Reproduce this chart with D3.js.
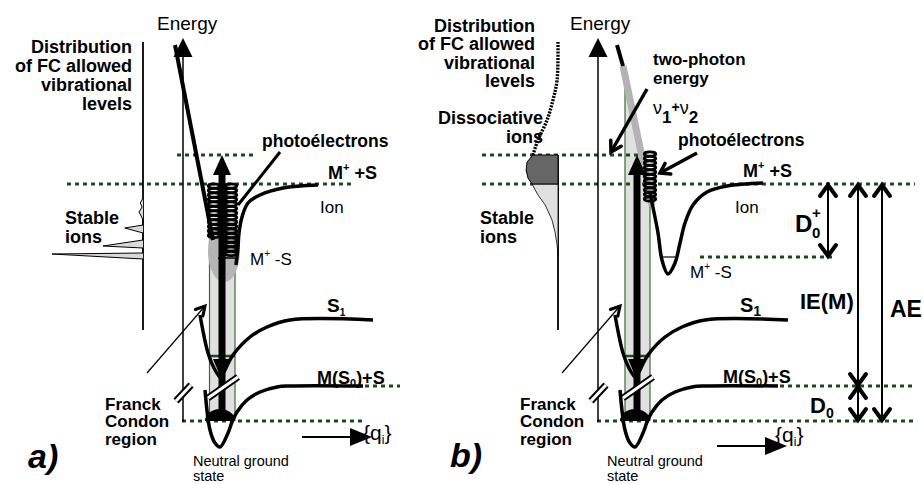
<!DOCTYPE html>
<html>
<head>
<meta charset="utf-8">
<script src="https://cdn.jsdelivr.net/npm/d3@7"></script>
<style>
  body { margin: 0; background: #fff; }
  svg { display: block; font-family: "Liberation Sans", Arial, Helvetica, sans-serif; }
</style>
</head>
<body>
<svg width="923" height="484"></svg>
<script>
// energies in arbitrary units (neutral ground state = 0), q = nuclear coordinate
const levelNames = ["ground", "M(S0)+S", "S1 window", "M+-S", "M+ +S", "v1+v2"];
const levelE = [0, 3.5, 6.5, 16.4, 23.7, 26.6];

// potential curves [q, E]
const groundCurve = [[20.5,3.1],[21.0,-0.9],[21.5,-2.2],[22.0,-2.6],[22.8,-1.2],[23.2,-0.1],[23.7,0.9],[24.7,2.1],[26.0,2.9],[27.7,3.4],[29.0,3.5],[36.3,3.5]];
const s1Curve = [[20.0,10.6],[20.8,6.8],[21.4,5.3],[22.1,4.3],[22.4,4.9],[23.3,6.6],[25.0,8.4],[26.7,9.4],[29.0,10.1],[37.3,10.1]];
const ionCurveA = [[23.6,15.6],[23.8,17.4],[23.9,18.8],[24.2,20.4],[24.8,21.8],[26.0,22.6],[28.3,23.3],[31.8,23.6]];
const ionWallA = [[17.5,37.6],[21.3,18.1]];
const ionCurveB = [[23.5,22.8],[24.3,18.8],[24.7,16.1],[25.3,14.7],[26.0,15.8],[26.5,17.8],[27.0,19.8],[27.8,21.6],[29.2,22.9],[31.2,23.5],[34.8,23.8]];
const ionWallB = [[20.2,37.6],[20.8,35.5],[23.7,21.6]];

// Franck-Condon region outlines
const fcA = [[20.95,18.8],[23.5,18.8],[23.5,0],[20.95,0]];
const fcB = [[21.0,33.6],[21.2,33.6],[23.5,22.6],[23.5,0],[21.0,0]];

// distribution of FC allowed levels [intensity, E]
const stableA = [[0,22.3],[0.03,21.8],[0.01,21.4],[0.045,20.9],[0.02,20.5],[0,20.1],[0,19.6],[0.2,19.3],[0,18.8],[0,18.1],[0.44,17.5],[0,17.3],[0,16.8],[1.0,16.7],[0,16.2]];
const profileB = [[0,37.9],[0.01,34.1],[0.055,32.1],[0.12,30.1],[0.22,28.1],[0.275,26.6],[0.34,25.9],[0.35,25.1],[0.33,24.3],[0.285,23.7],[0.22,22.6],[0.14,21.6],[0.066,20.1],[0.033,18.9],[0.01,17.6],[0,16.6]];

// photoelectron vibrational ladders (E)
const coilA1 = [23.5,23.05,22.6,22.15,21.7,21.25,20.8,20.35,19.9,19.45,19.0,18.55];
const coilA2 = [23.5,23.05,22.6,22.15,21.7,21.25,20.8,20.35,19.9,19.45,19.0,18.55,18.1,17.65,17.2,16.75];
const coilB = [26.7,26.25,25.8,25.35,24.9,24.45,24.0,23.55,23.1,22.65,22.2];

// energy gaps of panel b
const gapNames = ["D0+", "IE(M)", "AE", "D0"];
const gapLow = [16.4, 3.5, 0, 0];
const gapHigh = [23.7, 23.7, 23.7, 3.5];

const svg = d3.select("svg");
const x = d3.scaleLinear().domain([0, 50]).range([0, 500]);
const y = d3.scaleLinear().domain([0, 38.3]).range([421, 38]);
const dist = d3.scaleLinear().domain([0, 1]).range([0, 91]);
const distAxisQ = 14.3, energyAxisQ = 18.3;

const curve = d3.line().x(d => x(d[0])).y(d => y(d[1])).curve(d3.curveCatmullRom.alpha(0.5));
const straight = d3.line().x(d => x(d[0])).y(d => y(d[1]));
const distLine = d3.line().x(d => x(distAxisQ) - dist(d[0])).y(d => y(d[1]));
const distCurve = d3.line().x(d => x(distAxisQ) - dist(d[0])).y(d => y(d[1])).curve(d3.curveCatmullRom);

const green = "#1c4a1c";

const gA = svg.append("g");
const gB = svg.append("g").attr("transform", "translate(415,0)");

function head(g, x1, y1, x2, y2, len, half, open, sw) {
  const L = Math.hypot(x2 - x1, y2 - y1), ux = (x2 - x1) / L, uy = (y2 - y1) / L;
  const pts = [[x2 - ux * len - uy * half, y2 - uy * len + ux * half], [x2, y2],
               [x2 - ux * len + uy * half, y2 - uy * len - ux * half]];
  if (open) {
    g.append("path").attr("d", d3.line()(pts)).attr("fill", "none").attr("stroke", "#000")
      .attr("stroke-width", sw || 3.5).attr("stroke-linejoin", "miter").attr("stroke-linecap", "round");
  } else {
    g.append("path").attr("d", d3.line()(pts) + "Z").attr("fill", "#000");
  }
}

function seg(g, a, b, sw, color) {
  return g.append("line").attr("x1", x(a[0])).attr("y1", y(a[1])).attr("x2", x(b[0])).attr("y2", y(b[1]))
    .attr("stroke", color || "#000").attr("stroke-width", sw);
}

function label(g, px, py, parts, size, weight, anchor, italic) {
  const t = g.append("text").attr("x", px).attr("y", py)
    .attr("font-size", size).attr("font-weight", weight || "bold")
    .attr("text-anchor", anchor || "start").style("white-space", "pre");
  if (italic) t.attr("font-style", "italic");
  let cur = 0;
  parts.forEach(([s, off = 0, sz]) => {
    t.append("tspan").attr("dy", off - cur).attr("font-size", sz || size).text(s);
    cur = off;
  });
  return t;
}

// multi-line block as one text element
function lines(g, px, b0, step, texts, size, weight, anchor) {
  const t = g.append("text").attr("x", px).attr("y", b0)
    .attr("font-size", size).attr("font-weight", weight || "bold")
    .attr("text-anchor", anchor || "start");
  texts.forEach((s, i) => t.append("tspan").attr("x", px).attr("dy", i ? step : 0).text(s));
}

function dotted(g, spans) {
  spans.forEach(([li, q0, q1]) => {
    g.append("line").attr("x1", x(q0)).attr("x2", x(q1)).attr("y1", y(levelE[li])).attr("y2", y(levelE[li]))
      .attr("stroke", green).attr("stroke-width", 3).attr("stroke-dasharray", "4,4");
  });
}

function coil(g, q, levels) {
  g.selectAll(null).data(levels).enter().append("ellipse")
    .attr("cx", x(q)).attr("cy", d => y(d)).attr("rx", 5.8).attr("ry", 2.1)
    .attr("fill", "none").attr("stroke", "#000").attr("stroke-width", 2.7);
}

function fcRegion(g, poly) {
  g.append("path").attr("d", straight(poly) + "Z").attr("fill", "#e0e0e0");
  const left = poly[0][0], right = poly[poly.length - 2][0];
  const topR = poly[poly.length - 3][1];
  seg(g, [left, poly[0][1]], [left, 0], 1.2, "#3c6b36");
  seg(g, [right, topR], [right, 0], 1.2, "#3c6b36");
}

function common(g, dots, fc, axisTop) {
  fcRegion(g, fc);
  dotted(g, dots);
  // S1 window inside FC region
  seg(g, [fc[0][0], levelE[2]], [23.5, levelE[2]], 2.5, green);

  // axes
  seg(g, [distAxisQ, 9.1], [distAxisQ, axisTop], 1.8);
  seg(g, [energyAxisQ, -0.1], [energyAxisQ, 37.4], 1.5);
  head(g, x(energyAxisQ), y(30), x(energyAxisQ), y(38.3), 19, 9.5, false);

  // potentials
  g.append("path").attr("d", curve(groundCurve)).attr("fill", "none").attr("stroke", "#000").attr("stroke-width", 3.5);
  g.append("path").attr("d", curve(s1Curve)).attr("fill", "none").attr("stroke", "#000").attr("stroke-width", 3.5);
}

function overlay(g) {
  // vertical excitation arrow
  seg(g, [22.2, 0.3], [22.2, levelE[5] - 1.8], 7);
  head(g, x(22.2), y(10), x(22.2), y(levelE[5]), 20, 9, false);
  head(g, x(22.1), y(10), x(22.1), y(4.3), 19, 8, false);
  // ground vibrational wavefunction
  g.append("path")
    .attr("d", d3.arc()({ innerRadius: 0, outerRadius: 15, startAngle: -Math.PI / 2, endAngle: Math.PI / 2 }))
    .attr("transform", `translate(${x(22.0)},${y(0)}) scale(1,0.8)`).attr("fill", "#000");
  // breaks
  [[[20.8, 2.3], [23.8, 4.4]], [[17.6, 2.0], [19.1, 3.6]]].forEach(([a, b]) => {
    seg(g, a, b, 7).attr("stroke-linecap", "butt");
    seg(g, a, b, 3, "#fff").attr("stroke-linecap", "butt");
  });
  // Franck-Condon pointer
  seg(g, [14.7, 4.8], [20.5, 11.5], 1.2);
  head(g, x(14.7), y(4.8), x(20.5), y(11.5), 9, 5, true, 3);
}

// ---------- panel a ----------
common(gA, [[5, 17.7, 25.7], [4, 6.7, 35.5], [0, 18.2, 36.5], [1, 36.5, 40.0]], fcA, 37.9);
gA.append("path").attr("d", distLine(stableA)).attr("fill", "#d9d9d9").attr("stroke", "#000").attr("stroke-width", 1);
gA.append("ellipse").attr("cx", x(22.4)).attr("cy", y(17.0)).attr("rx", 16).attr("ry", 31).attr("fill", "#b5b5b5");
gA.append("path").attr("d", curve(ionCurveA)).attr("fill", "none").attr("stroke", "#000").attr("stroke-width", 3.5);
gA.append("path").attr("d", straight(ionWallA)).attr("fill", "none").attr("stroke", "#000").attr("stroke-width", 4);
seg(gA, [21.8, 16.3], [23.5, 16.3], 1.5);
coil(gA, 21.4, coilA1);
coil(gA, 23.1, coilA2);
seg(gA, [28.0, 26.9], [23.8, 21.6], 3);
overlay(gA);

// ---------- panel b ----------
common(gB, [[5, 6.7, 22.5], [4, 6.7, 50], [3, 28.5, 41.8], [1, 36.5, 50], [0, 18.2, 50]], fcB, levelE[5]);
const darkPart = [[0, 26.6]].concat(profileB.filter(d => d[1] <= 26.6 && d[1] >= 23.7), [[0, 23.7]]);
const lightPart = [[0, 23.7]].concat(profileB.filter(d => d[1] <= 23.7));
gB.append("path").attr("d", distLine(lightPart) + "Z").attr("fill", "#e0e0e0").attr("stroke", "#000").attr("stroke-width", 0.8);
gB.append("path").attr("d", distLine(darkPart) + "Z").attr("fill", "#666").attr("stroke", "#000").attr("stroke-width", 1);
gB.append("path").attr("d", distCurve(profileB.filter(d => d[1] >= 26.6)))
  .attr("fill", "none").attr("stroke", "#000").attr("stroke-width", 3.4).attr("stroke-dasharray", "2,1.2");
gB.append("path").attr("d", straight(ionWallB.slice(1))).attr("stroke", "#b3b3b3").attr("stroke-width", 7).attr("fill", "none");
gB.append("path").attr("d", straight(ionWallB.slice(0, 2))).attr("stroke", "#000").attr("stroke-width", 4).attr("fill", "none");
gB.append("path").attr("d", curve(ionCurveB)).attr("fill", "none").attr("stroke", "#000").attr("stroke-width", 3.5);
seg(gB, [24.8, 16.4], [26.0, 16.4], 1.2);
coil(gB, 23.5, coilB);
seg(gB, [28.2, 26.8], [24.5, 24.8], 3.5);
head(gB, x(28.2), y(26.8), x(24.5), y(24.8), 9, 6, true);
seg(gB, [23.2, 33.2], [19.6, 26.9], 3.5);
head(gB, x(23.2), y(33.2), x(19.6), y(26.9), 10, 6, true);
overlay(gB);

// energy gaps
const gapQ = [41.3, 44.3, 46.7, 44.3];
gapNames.forEach((n, i) => {
  const gx = x(gapQ[i]), y0 = y(gapLow[i]) - 1, y1 = y(gapHigh[i]) + 1;
  gB.append("line").attr("x1", gx).attr("x2", gx).attr("y1", y0).attr("y2", y1).attr("stroke", "#000").attr("stroke-width", 2);
  head(gB, gx, y0, gx, y1, 11, 8, true, 4);
  head(gB, gx, y1, gx, y0, 11, 8, true, 4);
});

// q arrows
[[gA, -1.6], [gB, -2.5]].forEach(([g, e]) => {
  seg(g, [30.2, e], [35.6, e], 2);
  head(g, x(30.2), y(e), x(37.2), y(e), 22, 9, false);
});

// ---------- texts ----------
lines(gA, 132, 53, 19, ["Distribution", "of FC allowed", "vibrational", "levels"], 18, "bold", "end");
lines(gB, 120, 32, 18.3, ["Distribution", "of FC allowed", "vibrational", "levels"], 18, "bold", "end");
[gA, gB].forEach((g, i) => {
  label(g, i ? 155 : 157, 30, [["Energy"]], 19, "normal");
  lines(g, 65, 224, 19, ["Stable", "ions"], 18, "bold");
  lines(g, 105, 409.5, 17.5, ["Franck", "Condon", "region"], 17, "bold");
  lines(g, i ? 192 : 193, 466, 15, ["Neutral ground", "state"], 14.5, "normal");
  label(g, i ? 360 : 363, i ? 442 : 440, [["{q"], ["i", 4, 12], ["}", 0]], 21, "normal");
  label(g, i ? 263 : 262, i ? 146 : 147, [["photoélectrons"]], 17.5, "bold");
  label(g, 328, i ? 177 : 179, [["M"], ["+", -8, 11], [" +S", 0]], 18, "bold");
  label(g, 320, 213, [["Ion"]], 17, "normal");
  label(g, i ? 275 : 250, i ? 278 : 265, [["M"], ["+", -8, 10], [" -S", 0]], 17, "normal");
  label(g, i ? 325 : 327, 312, [["S"], ["1", 4, i ? 14 : 10]], i ? 20 : 19, "bold");
  label(g, i ? 308 : 317, i ? 383 : 384, [["M(S"], ["0", 3, 11], [")+S", 0]], 18, "bold");
  label(g, i ? 35 : 28, i ? 467 : 468, [[i ? "b)" : "a)"]], 34, "bold", "start", true);
});
lines(gB, 128, 124, 19, ["Dissociative", "ions"], 18, "bold", "end");
lines(gB, 238, 65, 18.5, ["two-photon", "energy"], 17, "bold");
label(gB, 238, 114, [["ν", 0, 18], ["1", 9, 17], ["+", -2, 14], ["ν", 0, 18], ["2", 9, 17]], 17, "bold")
  .selectAll("tspan").filter((d, i) => i === 0 || i === 3).attr("font-weight", "normal");
label(gB, 380, 232, [["D"]], 24, "bold");
label(gB, 397, 218, [["+"]], 15, "bold");
label(gB, 397, 238, [["0"]], 15, "bold");
label(gB, 385, 309, [["IE(M)"]], 22, "bold");
label(gB, 475, 317, [["AE"]], 23, "bold");
label(gB, 395, 413, [["D"], ["0", 5, 14]], 22, "bold");
</script>
</body>
</html>
